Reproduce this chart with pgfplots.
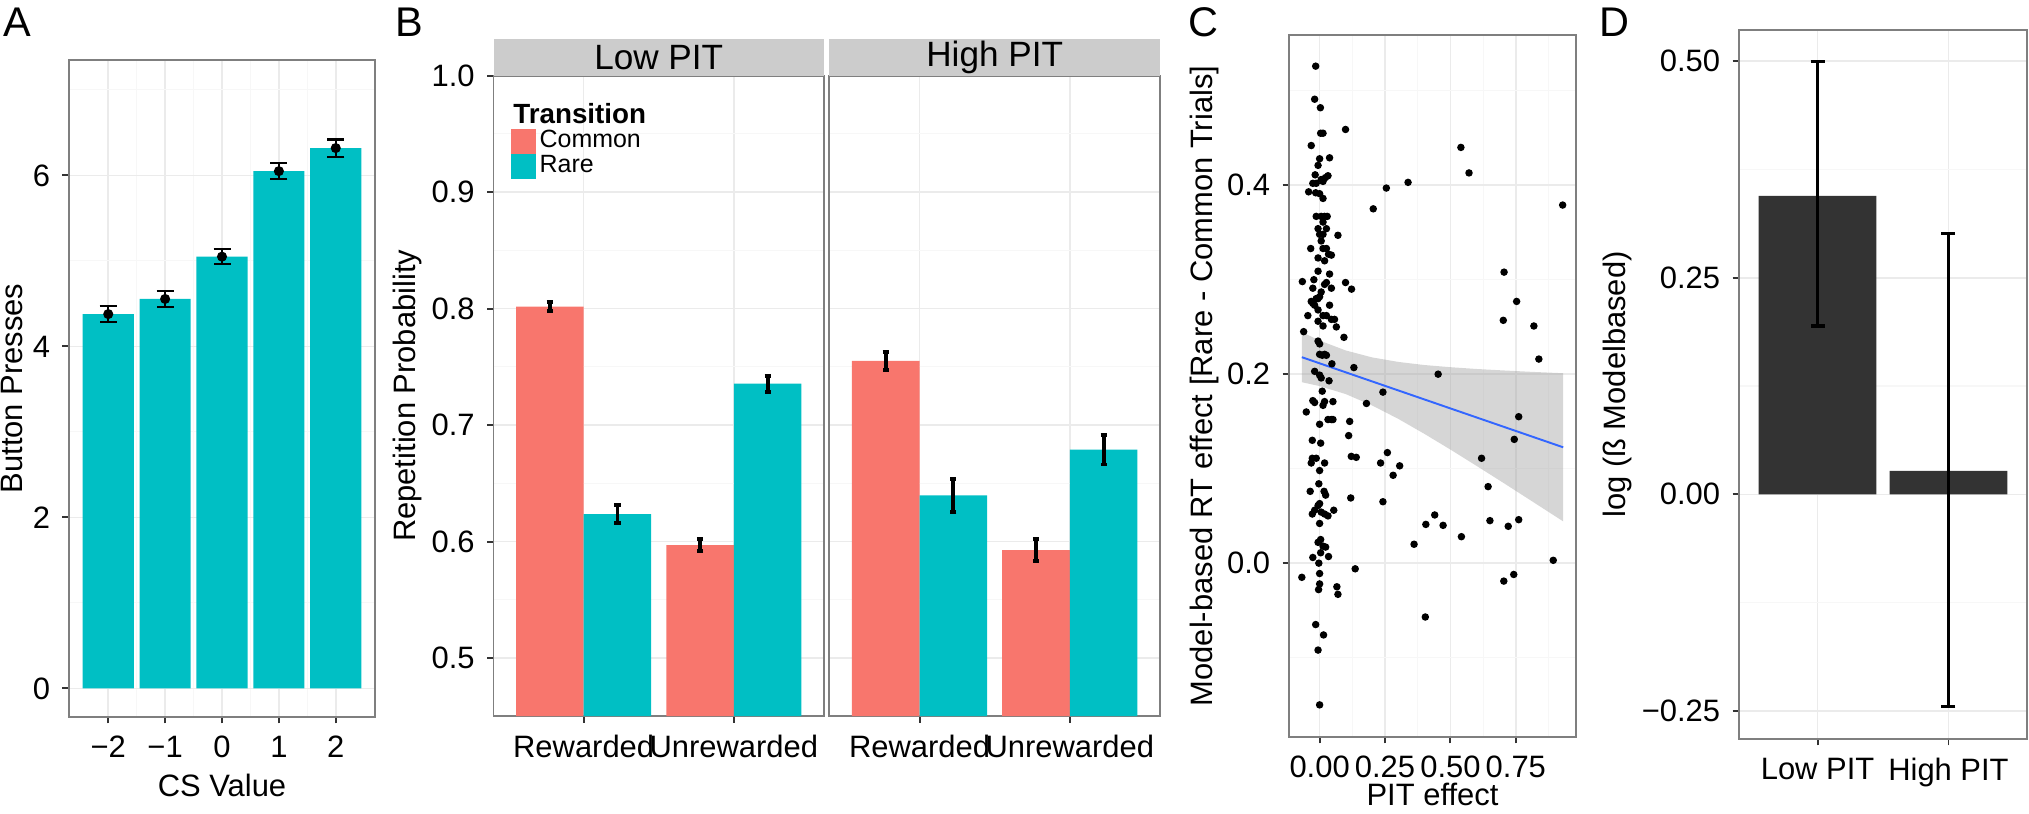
\documentclass[border=0pt]{standalone}
\usepackage{pgfplots}
\pgfplotsset{compat=1.18}
\usepackage{fontspec}
\setmainfont{Liberation Sans}
\definecolor{ggred}{HTML}{F8766D}
\definecolor{ggcyan}{HTML}{00BFC4}
\definecolor{ggdark}{HTML}{333333}
\definecolor{border}{HTML}{7F7F7F}
\definecolor{tickc}{HTML}{333333}
\definecolor{gridmaj}{HTML}{EBEBEB}
\definecolor{gridmin}{HTML}{F7F7F7}
\definecolor{stripc}{HTML}{CCCCCC}
\definecolor{ggblue}{HTML}{3366FF}
\definecolor{ribbon}{HTML}{999999}
\newcommand{\tickf}{\fontsize{8.8}{10}\selectfont}
\newcommand{\labf}{\fontsize{8.8}{10}\selectfont}
\newcommand{\stripf}{\fontsize{10}{12}\selectfont}
\newcommand{\legf}{\fontsize{7.1}{8}\selectfont}
\newcommand{\letf}{\fontsize{11.8}{14}\selectfont}
\pgfplotsset{gg/.style={scale only axis, anchor=south west,
  axis line style={draw=border, line width=0.55pt},
  tick align=outside, major tick length=0.065cm, minor tick length=0pt,
  tick style={draw=tickc, line width=0.55pt}, tick pos=left,
  grid=both, major grid style={draw=gridmaj, line width=0.45pt},
  minor grid style={draw=gridmin, line width=0.3pt},
  ticklabel style={font=\tickf, text=black}, label style={font=\labf}}}
\begin{document}
\begin{tikzpicture}
\useasboundingbox (0,0) rectangle (20.29,8.14);
% ---------- A ----------
\begin{axis}[gg, at={(0.69cm,0.97cm)}, width=3.06cm, height=6.57cm,
  xmin=-2.69, xmax=2.69, ymin=-0.335, ymax=7.35,
  xtick={-2,-1,0,1,2}, xticklabels={−2,−1,0,1,2}, minor xtick={-1.5,-0.5,0.5,1.5},
  ytick={0,2,4,6}, yticklabels={0,2,4,6}, minor ytick={1,3,5,7},
  xlabel={CS Value}, ylabel={Button Presses},
  xlabel style={at={(axis description cs:0.5,-0.1035)}, anchor=center},
  ylabel style={at={(axis description cs:-0.1846,0.5)}, anchor=center}]
\addplot[ybar, bar width=0.9, bar shift=0, fill=ggcyan, draw=none]
  coordinates {(-2,4.378) (-1,4.555) (0,5.05) (1,6.05) (2,6.32)};
\addplot[only marks, mark=*, mark size=0.043cm, black,
  error bars/.cd, y dir=both, y explicit,
  error bar style={draw=black, line width=0.6pt},
  error mark options={draw=black, line width=0.6pt, mark size=0.085cm, rotate=90}]
  coordinates {(-2,4.378) +- (0,0.09) (-1,4.555) +- (0,0.095) (0,5.05) +- (0,0.09)
               (1,6.05) +- (0,0.095) (2,6.32) +- (0,0.10)};
\end{axis}
% ---------- B low ----------
\begin{axis}[gg, name=b1, at={(4.935cm,0.98cm)}, width=3.305cm, height=6.404cm,
  xmin=0.4, xmax=2.6, ymin=0.4503, ymax=1.0,
  xtick={1,2}, xticklabels={Rewarded,Unrewarded},
  ytick={0.5,0.6,0.7,0.8,0.9,1.0}, yticklabels={0.5,0.6,0.7,0.8,0.9,1.0},
  minor ytick={0.55,0.65,0.75,0.85,0.95},
  ylabel={Repetition Probability},
  ylabel style={at={(axis description cs:-0.2617,0.5)}, anchor=center},
  legend image code/.code={\fill[#1] (0cm,-0.123cm) rectangle (0.246cm,0.123cm);},
  legend style={at={(axis description cs:0.053,0.9166)}, anchor=north west,
    draw=none, fill=none, inner sep=0pt, outer sep=0pt, row sep=0pt, column sep=0.04cm,
    font=\legf, nodes={inner sep=0pt, text height=0.185cm, text depth=0.065cm}},
  legend cell align=left]
\addplot[ybar, bar width=0.45, bar shift=-0.225, fill=ggred, draw=none, forget plot]
  coordinates {(1,0.8017) (2,0.597)};
\addplot[ybar, bar width=0.45, bar shift=0.225, fill=ggcyan, draw=none, forget plot]
  coordinates {(1,0.6236) (2,0.7355)};
\addplot[draw=none, mark=none, forget plot, error bars/.cd, y dir=both, y explicit,
  error bar style={draw=black, line width=1.1pt},
  error mark options={draw=black, line width=1.1pt, mark size=0.031cm, rotate=90}]
  coordinates {(0.775,0.8017) +- (0,0.004) (1.225,0.6236) +- (0,0.008)
               (1.775,0.597) +- (0,0.005) (2.225,0.7355) +- (0,0.007)};
\addlegendimage{fill=ggred, draw=none}
\addlegendentry{Common}
\addlegendimage{fill=ggcyan, draw=none}
\addlegendentry{Rare}
\node[anchor=west, inner sep=0pt, font=\bfseries\fontsize{7.9}{9}\selectfont]
  at (axis description cs:0.058,0.9405) {Transition};
\end{axis}
\fill[stripc] (b1.north west) rectangle ([yshift=0.366cm]b1.north east);
\node[font=\stripf] at ([yshift=0.183cm]b1.north) {Low PIT};
% ---------- B high ----------
\begin{axis}[gg, name=b2, at={(8.294cm,0.98cm)}, width=3.306cm, height=6.404cm,
  xmin=0.4, xmax=2.6, ymin=0.4503, ymax=1.0,
  xtick={1,2}, xticklabels={Rewarded,Unrewarded},
  ytick={0.5,0.6,0.7,0.8,0.9,1.0}, yticklabels={}, ytick style={draw=none},
  minor ytick={0.55,0.65,0.75,0.85,0.95}]
\addplot[ybar, bar width=0.45, bar shift=-0.225, fill=ggred, draw=none]
  coordinates {(1,0.7551) (2,0.5927)};
\addplot[ybar, bar width=0.45, bar shift=0.225, fill=ggcyan, draw=none]
  coordinates {(1,0.6397) (2,0.679)};
\addplot[draw=none, mark=none, error bars/.cd, y dir=both, y explicit,
  error bar style={draw=black, line width=1.1pt},
  error mark options={draw=black, line width=1.1pt, mark size=0.031cm, rotate=90}]
  coordinates {(0.775,0.7551) +- (0,0.008) (1.225,0.6397) +- (0,0.014)
               (1.775,0.5927) +- (0,0.0095) (2.225,0.679) +- (0,0.0128)};
\end{axis}
\fill[stripc] (b2.north west) rectangle ([yshift=0.366cm]b2.north east);
\node[font=\stripf] at ([yshift=0.183cm]b2.north) {High PIT};
% ---------- C ----------
\begin{axis}[gg, at={(12.89cm,0.77cm)}, width=2.87cm, height=7.02cm,
  xmin=-0.117, xmax=0.98, ymin=-0.184, ymax=0.559,
  xtick={0,0.25,0.5,0.75}, xticklabels={0.00,0.25,0.50,0.75},
  minor xtick={0.125,0.375,0.625,0.875},
  ytick={0,0.2,0.4}, yticklabels={0.0,0.2,0.4}, minor ytick={-0.1,0.1,0.3,0.5},
  xlabel={PIT effect}, ylabel={Model-based RT effect [Rare - Common Trials]},
  xlabel style={at={(axis description cs:0.5,-0.0812)}, anchor=center},
  ylabel style={at={(axis description cs:-0.296,0.5)}, anchor=center}]
\addplot[only marks, mark=*, mark size=0.03cm, black] table {
x y
-0.015 0.526
-0.019 0.491
0.003 0.482
0.004 0.455
0.013 0.455
0.099 0.459
-0.032 0.442
0.038 0.429
0.000 0.428
-0.006 0.421
-0.017 0.411
0.032 0.410
0.006 0.406
-0.026 0.402
-0.013 0.402
0.013 0.404
0.022 0.408
-0.042 0.393
-0.015 0.392
0.000 0.391
0.013 0.386
-0.013 0.367
0.006 0.367
0.019 0.367
0.029 0.367
0.013 0.361
-0.006 0.354
0.026 0.354
0.000 0.348
0.013 0.348
0.070 0.347
0.006 0.341
-0.034 0.333
0.013 0.333
0.026 0.333
0.034 0.327
0.045 0.326
-0.006 0.323
0.019 0.320
-0.066 0.298
-0.022 0.300
-0.006 0.309
0.038 0.306
0.026 0.297
0.019 0.295
0.099 0.297
0.122 0.290
0.045 0.291
-0.026 0.291
0.006 0.287
0.000 0.282
-0.006 0.280
-0.013 0.280
-0.032 0.277
-0.026 0.275
-0.019 0.273
0.038 0.273
-0.006 0.268
0.013 0.262
0.026 0.262
-0.045 0.262
0.045 0.258
0.057 0.258
-0.006 0.256
0.013 0.251
0.064 0.250
-0.061 0.245
0.093 0.239
-0.006 0.235
0.000 0.232
0.000 0.221
0.010 0.220
0.019 0.221
0.026 0.220
0.047 0.211
0.131 0.207
-0.019 0.203
0.000 0.199
0.006 0.196
0.036 0.193
0.010 0.182
0.242 0.181
0.179 0.169
-0.051 0.160
-0.026 0.172
-0.019 0.170
0.019 0.171
0.051 0.171
0.013 0.167
0.032 0.152
0.045 0.152
0.051 0.152
0.000 0.147
0.115 0.150
0.453 0.200
0.761 0.155
0.111 0.135
0.744 0.131
-0.028 0.130
0.004 0.127
0.121 0.113
0.140 0.112
-0.028 0.111
-0.013 0.111
0.259 0.117
0.019 0.106
-0.032 0.106
0.233 0.106
0.306 0.103
0.619 0.111
0.000 0.098
0.281 0.093
-0.003 0.084
0.644 0.081
-0.036 0.076
0.017 0.076
0.023 0.072
0.119 0.069
0.242 0.065
0.000 0.063
-0.006 0.061
-0.028 0.052
-0.019 0.056
0.006 0.054
0.019 0.052
0.032 0.050
0.054 0.056
0.440 0.051
0.000 0.042
0.406 0.041
0.472 0.040
0.651 0.045
0.721 0.039
0.761 0.046
0.004 0.025
-0.006 0.022
0.023 0.017
0.013 0.018
0.542 0.028
0.361 0.020
-0.026 0.006
0.004 0.011
0.034 0.007
0.893 0.003
-0.003 0.000
0.136 -0.006
-0.068 -0.015
0.000 -0.011
0.704 -0.019
0.742 -0.012
0.000 -0.022
-0.004 -0.028
0.066 -0.025
0.070 -0.033
0.404 -0.057
-0.015 -0.065
0.015 -0.076
-0.006 -0.092
0.000 -0.150
0.540 0.440
0.571 0.413
0.338 0.403
0.255 0.397
0.205 0.375
0.929 0.379
0.705 0.308
0.753 0.277
0.702 0.257
0.819 0.251
0.838 0.216
};
\addplot[draw=none, fill=ribbon, fill opacity=0.4] coordinates {
(-0.068,0.2445) (0,0.2356) (0.1,0.2251) (0.2,0.2178) (0.3,0.2130) (0.4,0.2097)
(0.5,0.2074) (0.6,0.2055) (0.7,0.2040) (0.8,0.2026) (0.931,0.2010)
(0.931,0.0442) (0.8,0.0676) (0.7,0.0854) (0.6,0.1029) (0.5,0.1202) (0.4,0.1369)
(0.3,0.1528) (0.2,0.1670) (0.1,0.1789) (0,0.1874) (-0.068,0.1915)} -- cycle;
\addplot[ggblue, line width=0.55pt] coordinates {(-0.068,0.218) (0.931,0.1226)};
\end{axis}
% ---------- D ----------
\begin{axis}[gg, at={(17.39cm,0.75cm)}, width=2.88cm, height=7.09cm,
  xmin=0.4, xmax=2.6, ymin=-0.2825, ymax=0.536,
  xtick={1,2}, xticklabels={Low PIT,High PIT},
  ytick={-0.25,0,0.25,0.5}, yticklabels={−0.25,0.00,0.25,0.50},
  minor ytick={-0.125,0.125,0.375},
  ylabel={log (ß Modelbased)},
  ylabel style={at={(axis description cs:-0.4236,0.5)}, anchor=center}]
\addplot[ybar, bar width=0.9, bar shift=0, fill=ggdark, draw=none]
  coordinates {(1,0.3444) (2,0.0271)};
\addplot[draw=none, mark=none, error bars/.cd, y dir=both, y explicit,
  error bar style={draw=black, line width=1.1pt},
  error mark options={draw=black, line width=1.1pt, mark size=0.07cm, rotate=90}]
  coordinates {(1,0.3444) += (0,0.1553) -= (0,0.1505) (2,0.0271) += (0,0.2739) -= (0,0.2721)};
\end{axis}
% ---------- panel letters ----------
\node[anchor=base west, inner sep=0pt, font=\letf] at (0.027,7.775) {A};
\node[anchor=base west, inner sep=0pt, font=\letf] at (3.95,7.775) {B};
\node[anchor=base west, inner sep=0pt, font=\letf] at (11.88,7.77) {C};
\node[anchor=base west, inner sep=0pt, font=\letf] at (15.99,7.775) {D};
\end{tikzpicture}
\end{document}
